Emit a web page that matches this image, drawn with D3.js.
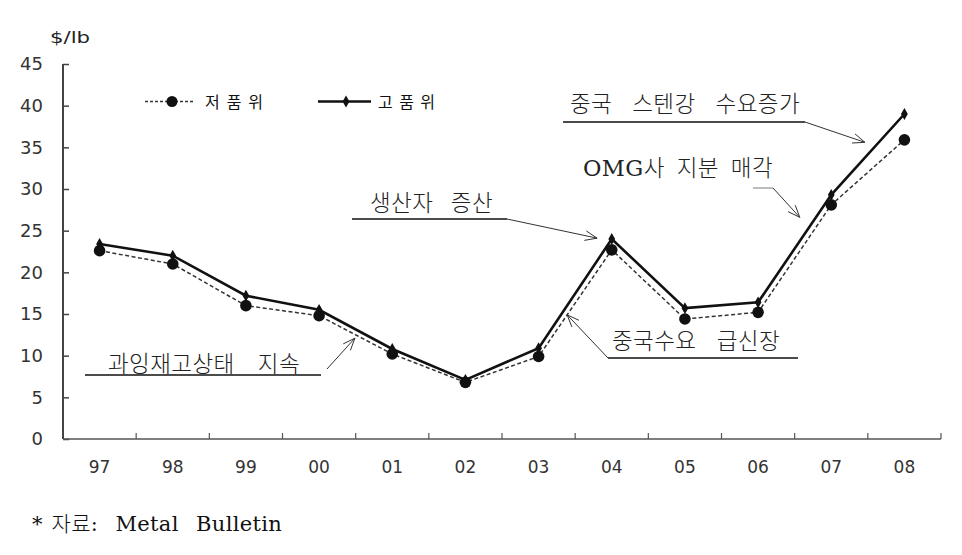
<!DOCTYPE html>
<html><head><meta charset="utf-8">
<script src="https://cdn.jsdelivr.net/npm/d3@7/dist/d3.min.js"></script>
<style>body{margin:0;background:#fff}svg{display:block}</style>
</head><body>
<svg id="c" width="962" height="555"></svg>
<script>
const categories = ["97","98","99","00","01","02","03","04","05","06","07","08"];
const lowGrade  = [22.6, 21.0, 16.0, 14.8, 10.2, 6.8, 9.9, 22.7, 14.4, 15.2, 28.1, 35.9];
const highGrade = [23.4, 22.0, 17.2, 15.5, 10.8, 7.1, 10.9, 24.0, 15.7, 16.4, 29.3, 39.0];
const yTicks = [0,5,10,15,20,25,30,35,40,45];
const seriesNames = ["저품위","고품위"];
const unitLabel = "$/lb";
const sourceText = "* 자료:  Metal  Bulletin";
const annotations = [
  {text:"중국 스텐강 수요증가", tx:570, ty:112, tl:230, ul:[563,805,122], from:[805,122], tip:[10.46,35.6]},
  {text:"OMG사 지분 매각", tx:583, ty:176, tl:190, ul:[753,773,188], from:[773,188], tip:[9.57,26.6], ulColor:"#999"},
  {text:"생산자 증산", tx:370, ty:211, tl:123, ul:[352,507,219], from:[507,219], tip:[6.80,24.1]},
  {text:"과잉재고상태 지속", tx:108, ty:372, tl:192, ul:[85,321,375], from:[327,369], tip:[3.49,12.1]},
  {text:"중국수요 급신장", tx:612, ty:349, tl:168, ul:[608,798,358], from:[608,358], tip:[6.39,14.9]}
];

const svg = d3.select("#c");
const L=63, R=941, T=64, B=439;
const x = d3.scaleBand().domain(categories).range([L,R]);
const bw = x.bandwidth();
const cx = c => x(c)+bw/2;
const xi = d3.scaleLinear().domain([0,categories.length-1]).range([cx(categories[0]), cx(categories[categories.length-1])]);
const y = d3.scaleLinear().domain([0,45]).range([B,T]);

function fit(sel, target){
  const node = sel.node();
  const w = node.getComputedTextLength();
  const txt = sel.text();
  const spaces = (txt.match(/ /g)||[]).length;
  if (spaces>0) sel.attr("word-spacing", Math.max(0,(target-w)/spaces));
  else sel.attr("letter-spacing", (target-w)/Math.max(1,txt.length-1));
}

// Y axis
const ya = svg.append("g").attr("transform",`translate(${L},0)`)
  .call(d3.axisLeft(y).tickValues(yTicks).tickSize(-6).tickPadding(20));
ya.select(".domain").attr("stroke","#444").attr("stroke-width",2).attr("d",`M0,${T}V${B}`);
ya.selectAll(".tick line").attr("stroke","#444").attr("stroke-width",1.5);
ya.selectAll(".tick text").attr("font-family","DejaVu Sans").attr("font-size",18).attr("fill","#333");

// X axis
svg.append("line").attr("x1",L).attr("x2",R).attr("y1",B).attr("y2",B).attr("stroke","#555").attr("stroke-width",1.5);
svg.selectAll(".xt").data(categories).enter().append("line")
  .attr("x1",d=>x(d)+bw).attr("x2",d=>x(d)+bw).attr("y1",B).attr("y2",B-6)
  .attr("stroke","#555").attr("stroke-width",1.2);
svg.selectAll(".xl").data(categories).enter().append("text")
  .attr("x",d=>cx(d)).attr("y",B+34).attr("text-anchor","middle")
  .attr("font-family","DejaVu Sans").attr("font-size",17).attr("fill","#333").text(d=>d);

svg.append("text").attr("x",50).attr("y",43).attr("font-family","DejaVu Sans").attr("font-size",16)
  .attr("textLength",40).attr("lengthAdjust","spacingAndGlyphs").attr("fill","#222").text(unitLabel);

// lines
const line = d3.line().x((d,i)=>cx(categories[i])).y(d=>y(d));
svg.append("path").datum(lowGrade).attr("d",line).attr("fill","none").attr("stroke","#333")
  .attr("stroke-width",1.5).attr("stroke-dasharray","4,2.5");
svg.append("path").datum(highGrade).attr("d",line).attr("fill","none").attr("stroke","#111").attr("stroke-width",2.6);
svg.selectAll(".lc").data(lowGrade).enter().append("circle")
  .attr("cx",(d,i)=>cx(categories[i])).attr("cy",d=>y(d)).attr("r",5.8).attr("fill","#111");
const diamond = d3.symbol().type(d3.symbolDiamond).size(40);
svg.selectAll(".hd").data(highGrade).enter().append("path").attr("d",diamond)
  .attr("transform",(d,i)=>`translate(${cx(categories[i])},${y(d)})`).attr("fill","#111");

// legend
const lg = svg.append("g");
lg.append("line").attr("x1",145).attr("x2",193).attr("y1",101.5).attr("y2",101.5).attr("stroke","#333").attr("stroke-width",1.3).attr("stroke-dasharray","3,2");
lg.append("circle").attr("cx",172).attr("cy",101.5).attr("r",5.5).attr("fill","#111");
lg.append("text").attr("x",205).attr("y",108).attr("font-family","Noto Sans CJK KR").attr("font-size",16)
  .attr("textLength",58).attr("lengthAdjust","spacing").attr("fill","#111").text(seriesNames[0]);
lg.append("line").attr("x1",318).attr("x2",371).attr("y1",101.5).attr("y2",101.5).attr("stroke","#111").attr("stroke-width",2.6);
lg.append("path").attr("d",diamond).attr("transform","translate(346,101.5)").attr("fill","#111");
lg.append("text").attr("x",378).attr("y",108).attr("font-family","Noto Sans CJK KR").attr("font-size",16)
  .attr("textLength",57).attr("lengthAdjust","spacing").attr("fill","#111").text(seriesNames[1]);

// annotations
const ag = svg.append("g");
annotations.forEach(a=>{
  const t = ag.append("text").attr("x",a.tx).attr("y",a.ty).attr("font-family","DejaVu Serif, Noto Sans CJK KR")
    .attr("font-size",22.5).attr("font-weight",300).attr("letter-spacing",0.4).attr("fill","#222").text(a.text);
  fit(t, a.tl);
  ag.append("line").attr("x1",a.ul[0]).attr("x2",a.ul[1]).attr("y1",a.ul[2]).attr("y2",a.ul[2])
    .attr("stroke",a.ulColor||"#111").attr("stroke-width",1.3);
  const tx = xi(a.tip[0]), ty = y(a.tip[1]);
  const [fx,fy] = a.from;
  const ang = Math.atan2(ty-fy, tx-fx);
  const hl = 13, ha = 0.38;
  const p1=[tx-hl*Math.cos(ang-ha), ty-hl*Math.sin(ang-ha)];
  const p2=[tx-hl*Math.cos(ang+ha), ty-hl*Math.sin(ang+ha)];
  ag.append("path").attr("d",`M${fx},${fy}L${tx},${ty}M${p1}L${tx},${ty}L${p2}`)
    .attr("fill","none").attr("stroke","#333").attr("stroke-width",1);
});

const st = svg.append("text").attr("x",32).attr("y",531).attr("font-family","DejaVu Serif, Noto Sans CJK KR")
  .attr("font-size",21).attr("font-weight",300).attr("letter-spacing",0.3).attr("fill","#111")
  .style("white-space","pre").text(sourceText);
fit(st, 250);
</script>
</body></html>
